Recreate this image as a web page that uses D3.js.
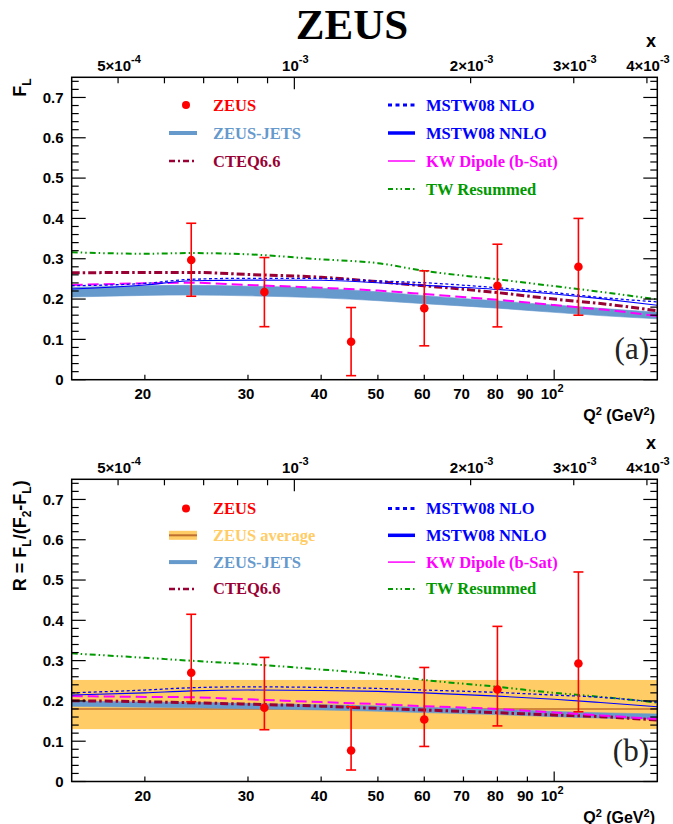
<!DOCTYPE html>
<html>
<head>
<meta charset="utf-8">
<script src="https://cdn.jsdelivr.net/npm/d3@7"></script>
<style>
  html, body { margin: 0; padding: 0; background: #fff; }
  svg { display: block; }
</style>
</head>
<body>
<svg id="chart" width="673" height="824"></svg>
<script>
// ---------------- DATA ----------------
const Q2_MIN = 15, Q2_MAX = 150;
const X_FACTOR = 36000;               // x = Q2 / X_FACTOR (top axis)
const Y_MAX = 0.75;

// Q2 grid on which theory curves are read
const q2Grid = [15, 20, 24, 30, 40, 50, 60, 80, 100, 120, 150];

// ---- panel (a): F_L ----
const flTW    = [0.316, 0.3125, 0.314, 0.311, 0.2985, 0.289, 0.270, 0.249, 0.232, 0.218, 0.199];
const flCTEQ  = [0.265, 0.266, 0.266, 0.261, 0.254, 0.243, 0.233, 0.216, 0.200, 0.189, 0.171];
const flNLO   = [0.233, 0.239, 0.249, 0.2515, 0.251, 0.245, 0.2405, 0.228, 0.216, 0.204, 0.193];
const flNNLO  = [0.225, 0.235, 0.2455, 0.247, 0.2465, 0.2405, 0.234, 0.224, 0.2125, 0.201, 0.1845];
const flKW    = [0.235, 0.239, 0.2405, 0.235, 0.228, 0.221, 0.2125, 0.198, 0.185, 0.1745, 0.158];
const flJetsLo = [0.205, 0.209, 0.210, 0.208, 0.203, 0.196, 0.1885, 0.1775, 0.167, 0.159, 0.151];
const flJetsHi = [0.229, 0.233, 0.234, 0.232, 0.227, 0.218, 0.2085, 0.1955, 0.185, 0.177, 0.167];

// ---- panel (b): R = F_L/(F_2-F_L) ----
const rTW    = [0.318, 0.307, 0.2997, 0.2915, 0.278, 0.266, 0.252, 0.235, 0.220, 0.210, 0.196];
const rCTEQ  = [0.2005, 0.198, 0.1955, 0.192, 0.187, 0.1815, 0.1775, 0.1707, 0.165, 0.161, 0.1525];
const rNLO   = [0.220, 0.227, 0.2327, 0.235, 0.2335, 0.231, 0.227, 0.221, 0.2145, 0.209, 0.197];
const rNNLO  = [0.2145, 0.220, 0.225, 0.227, 0.226, 0.2237, 0.220, 0.212, 0.204, 0.196, 0.1855];
const rKW    = [0.212, 0.210, 0.209, 0.204, 0.197, 0.192, 0.187, 0.180, 0.1715, 0.164, 0.155];
const rJetsLo = [0.1865, 0.1845, 0.183, 0.1805, 0.1775, 0.1745, 0.171, 0.166, 0.161, 0.1575, 0.1545];
const rJetsHi = [0.1995, 0.1975, 0.1965, 0.1935, 0.1905, 0.1875, 0.184, 0.179, 0.174, 0.1705, 0.1675];
const rAvg = 0.18, rAvgLo = 0.13, rAvgHi = 0.252;

// ---- ZEUS data points ----
const q2Pts = [24, 32, 45, 60, 80, 110];
const flPts   = [0.297, 0.2175, 0.094, 0.177, 0.233, 0.280];
const flPtsHi = [0.388, 0.303, 0.179, 0.270, 0.336, 0.400];
const flPtsLo = [0.207, 0.1315, 0.010, 0.084, 0.131, 0.160];
const rPts    = [0.270, 0.183, 0.077, 0.154, 0.2285, 0.293];
const rPtsHi  = [0.415, 0.308, 0.1855, 0.283, 0.385, 0.520];
const rPtsLo  = [0.198, 0.1285, 0.0285, 0.087, 0.138, 0.173];

// ---- tick labels ----
const q2TickVals = [20, 30, 40, 50, 60, 70, 80, 90, 100];
const q2TickLabels = ["20", "30", "40", "50", "60", "70", "80", "90", "10^2"];
const xTickVals = [5e-4, 6e-4, 7e-4, 8e-4, 9e-4, 1e-3, 2e-3, 3e-3, 4e-3];
const xLabelVals = [5e-4, 1e-3, 2e-3, 3e-3, 4e-3];
const xLabelTexts = [["5\u00d710", "-4"], ["10", "-3"], ["2\u00d710", "-3"], ["3\u00d710", "-3"], ["4\u00d710", "-3"]];
const yMajor = [0, 0.1, 0.2, 0.3, 0.4, 0.5, 0.6, 0.7];
const yLabels = ["0", "0.1", "0.2", "0.3", "0.4", "0.5", "0.6", "0.7"];

// ---------------- STYLE ----------------
const C = {
  red: "#ff0000", jets: "#6699cc", cteq: "#990033", blue: "#0000ff",
  kw: "#ff00ff", tw: "#009900", avg: "#ffcc66", avgLine: "#c0702e"
};
const SANS = "'Liberation Sans', Arial, Helvetica, sans-serif";
const SERIF = "'Liberation Serif', 'Times New Roman', serif";

const svg = d3.select("#chart");
svg.append("rect").attr("width", 673).attr("height", 824).attr("fill", "#fff");

const XL = 71.7, XR = 657.3;
const x = d3.scaleLog().domain([Q2_MIN, Q2_MAX]).range([XL, XR]);
const xTop = d3.scaleLog().domain([Q2_MIN / X_FACTOR, Q2_MAX / X_FACTOR]).range([XL, XR]);

// title
svg.append("text").attr("x", 352).attr("y", 39).attr("text-anchor", "middle")
  .attr("font-family", SERIF).attr("font-weight", "bold").attr("font-size", 43)
  .attr("fill", "#000").text("ZEUS");

function zip(xs, ys) { return xs.map((v, i) => [v, ys[i]]); }

function drawPanel(cfg) {
  const g = svg.append("g");
  const y = d3.scaleLinear().domain([0, Y_MAX]).range([cfg.bottom, cfg.top]);
  const line = d3.line().x(d => x(d[0])).y(d => y(d[1])).curve(d3.curveMonotoneX);
  const area = d3.area().x(d => x(d[0])).y0(d => y(d[1])).y1(d => y(d[2])).curve(d3.curveMonotoneX);

  const clipId = "clip" + cfg.id;
  svg.append("clipPath").attr("id", clipId).append("rect")
    .attr("x", XL).attr("y", cfg.top).attr("width", XR - XL).attr("height", cfg.bottom - cfg.top);
  const plot = g.append("g").attr("clip-path", `url(#${clipId})`);

  if (cfg.avg) {
    plot.append("rect").attr("x", x(Q2_MIN)).attr("width", x(Q2_MAX) - x(Q2_MIN))
      .attr("y", y(cfg.avg.hi)).attr("height", y(cfg.avg.lo) - y(cfg.avg.hi))
      .attr("fill", C.avg);
    plot.append("line").attr("x1", x(Q2_MIN)).attr("x2", x(Q2_MAX))
      .attr("y1", y(cfg.avg.v)).attr("y2", y(cfg.avg.v))
      .attr("stroke", C.avgLine).attr("stroke-width", 1.5);
  }
  plot.append("path").datum(q2Grid.map((q, i) => [q, cfg.jetsLo[i], cfg.jetsHi[i]]))
    .attr("d", area).attr("fill", C.jets).attr("stroke", C.jets).attr("stroke-width", 0.6);

  const curves = [
    { d: cfg.tw, color: C.tw, w: 2, dash: "6,3,1.5,3,1.5,3" },
    { d: cfg.cteq, color: C.cteq, w: 3, dash: "8,3,2.5,3" },
    { d: cfg.kw, color: C.kw, w: 2, dash: "11,5" },
    { d: cfg.nnlo, color: C.blue, w: 1.1, dash: null },
    { d: cfg.nlo, color: C.blue, w: 1.3, dash: "3,2.5" }
  ];
  curves.forEach(c => {
    plot.append("path").datum(zip(q2Grid, c.d)).attr("d", line)
      .attr("fill", "none").attr("stroke", c.color).attr("stroke-width", c.w)
      .attr("stroke-dasharray", c.dash);
  });

  const pts = q2Pts.map((q, i) => ({ q, v: cfg.pts[i], hi: cfg.ptsHi[i], lo: cfg.ptsLo[i] }));
  const pg = g.append("g");
  pts.forEach(p => {
    const px = x(p.q);
    pg.append("line").attr("x1", px).attr("x2", px).attr("y1", y(p.hi)).attr("y2", y(p.lo))
      .attr("stroke", C.red).attr("stroke-width", 1.6);
    [p.hi, p.lo].forEach(e => pg.append("line").attr("x1", px - 5).attr("x2", px + 5)
      .attr("y1", y(e)).attr("y2", y(e)).attr("stroke", C.red).attr("stroke-width", 1.6));
    pg.append("circle").attr("cx", px).attr("cy", y(p.v)).attr("r", 4.3).attr("fill", C.red);
  });

  g.append("rect").attr("x", XL).attr("y", cfg.top).attr("width", XR - XL)
    .attr("height", cfg.bottom - cfg.top).attr("fill", "none")
    .attr("stroke", "#000").attr("stroke-width", 1.5);

  const ax = g.append("g").attr("stroke", "#000").attr("stroke-width", 1.2);
  const yMinor = d3.range(0, Y_MAX + 1e-9, 0.02);
  yMinor.forEach(v => {
    const major = yMajor.some(m => Math.abs(m - v) < 1e-6);
    const len = major ? 14 : 7;
    ax.append("line").attr("x1", XL).attr("x2", XL + len).attr("y1", y(v)).attr("y2", y(v));
    ax.append("line").attr("x1", XR).attr("x2", XR - len).attr("y1", y(v)).attr("y2", y(v));
  });
  q2TickVals.forEach(v => {
    const len = v === 100 ? 10 : 5;
    ax.append("line").attr("x1", x(v)).attr("x2", x(v)).attr("y1", cfg.bottom).attr("y2", cfg.bottom - len);
  });
  xTickVals.forEach(v => {
    const len = Math.abs(v - 1e-3) < 1e-12 ? 12 : 6;
    ax.append("line").attr("x1", xTop(v)).attr("x2", xTop(v)).attr("y1", cfg.top).attr("y2", cfg.top + len);
  });

  yMajor.forEach((v, i) => {
    g.append("text").attr("x", 63.5).attr("y", y(v) + 5.3).attr("text-anchor", "end")
      .attr("font-family", SANS).attr("font-weight", "bold").attr("font-size", 15)
      .text(yLabels[i]);
  });
  q2TickVals.forEach((v, i) => {
    const lab = q2TickLabels[i];
    const t = g.append("text").attr("y", cfg.bottom + 19)
      .attr("font-family", SANS).attr("font-weight", "bold").attr("font-size", 15);
    if (lab.includes("^")) {
      const [b, s] = lab.split("^");
      t.attr("x", x(v) - 2).attr("text-anchor", "middle");
      t.append("tspan").text(b);
      t.append("tspan").attr("dy", -7).attr("font-size", 11).text(s);
    } else {
      t.attr("x", x(v) - 2).attr("text-anchor", "middle").text(lab);
    }
  });
  const qt = g.append("text").attr("x", 655).attr("y", cfg.bottom + 41).attr("text-anchor", "end")
    .attr("font-family", SANS).attr("font-weight", "bold").attr("font-size", 16);
  qt.append("tspan").text("Q");
  qt.append("tspan").attr("dy", -6).attr("font-size", 11).text("2");
  qt.append("tspan").attr("dy", 6).text(" (GeV");
  qt.append("tspan").attr("dy", -6).attr("font-size", 11).text("2");
  qt.append("tspan").attr("dy", 6).text(")");

  xLabelVals.forEach((v, i) => {
    const t = g.append("text").attr("x", xTop(v) + 1).attr("y", cfg.top - 6).attr("text-anchor", "middle")
      .attr("font-family", SANS).attr("font-weight", "bold").attr("font-size", 15);
    t.append("tspan").text(xLabelTexts[i][0]);
    t.append("tspan").attr("dy", -8).attr("font-size", 11).text(xLabelTexts[i][1]);
  });
  g.append("text").attr("x", 651).attr("y", cfg.top - 30).attr("text-anchor", "middle")
    .attr("font-family", SANS).attr("font-weight", "bold").attr("font-size", 18).text("x");

  const yt = g.append("text").attr("transform", `translate(26,${cfg.top + 1}) rotate(-90)`)
    .attr("text-anchor", "end").attr("font-family", SANS).attr("font-weight", "bold").attr("font-size", 18);
  cfg.yTitle.forEach(part => {
    const ts = yt.append("tspan").text(part.t);
    if (part.sub) ts.attr("dy", 5).attr("font-size", 12);
    else if (part.back) ts.attr("dy", -5);
  });

  g.append("text").attr("x", 649).attr("y", cfg.bottom - 21).attr("text-anchor", "end")
    .attr("font-family", SERIF).attr("font-size", 31).attr("fill", "#222").text(cfg.label);

  const lg = g.append("g");
  function legendRow(col, rowY, sym, text, color) {
    const x0 = col === 0 ? 169 : 388, x1 = col === 0 ? 197 : 415, tx = col === 0 ? 213 : 426;
    if (sym.type === "marker") {
      lg.append("circle").attr("cx", 186).attr("cy", rowY).attr("r", 4).attr("fill", C.red);
    } else if (sym.type === "band") {
      lg.append("rect").attr("x", x0).attr("y", rowY - 4.5).attr("width", x1 - x0).attr("height", 9).attr("fill", C.avg);
      lg.append("line").attr("x1", x0).attr("x2", x1).attr("y1", rowY).attr("y2", rowY)
        .attr("stroke", C.avgLine).attr("stroke-width", 2);
    } else {
      lg.append("line").attr("x1", x0).attr("x2", x1).attr("y1", rowY).attr("y2", rowY)
        .attr("stroke", sym.color).attr("stroke-width", sym.w).attr("stroke-dasharray", sym.dash || null);
    }
    lg.append("text").attr("x", tx).attr("y", rowY + 5.5).attr("font-family", SERIF)
      .attr("font-weight", "bold").attr("font-size", 16.5).attr("fill", color).text(text);
  }
  cfg.legend.forEach(r => legendRow(r.col, cfg.legY0 + r.row * cfg.legDy, r.sym, r.text, r.color));
}

const legJets = { type: "line", color: C.jets, w: 4 };
const legCteq = { type: "line", color: C.cteq, w: 2.5, dash: "6,3,2,3" };
const legNLO = { type: "line", color: C.blue, w: 3, dash: "4,3.5" };
const legNNLO = { type: "line", color: C.blue, w: 3.5 };
const legKW = { type: "line", color: C.kw, w: 1.5 };
const legTW = { type: "line", color: C.tw, w: 2, dash: "5,3,1.5,3,1.5,3" };

drawPanel({
  id: "a", top: 77.3, bottom: 379.7, label: "(a)",
  tw: flTW, cteq: flCTEQ, nlo: flNLO, nnlo: flNNLO, kw: flKW, jetsLo: flJetsLo, jetsHi: flJetsHi,
  pts: flPts, ptsHi: flPtsHi, ptsLo: flPtsLo,
  yTitle: [{ t: "F" }, { t: "L", sub: true }],
  legY0: 105, legDy: 28,
  legend: [
    { col: 0, row: 0, sym: { type: "marker" }, text: "ZEUS", color: C.red },
    { col: 0, row: 1, sym: legJets, text: "ZEUS-JETS", color: C.jets },
    { col: 0, row: 2, sym: legCteq, text: "CTEQ6.6", color: C.cteq },
    { col: 1, row: 0, sym: legNLO, text: "MSTW08 NLO", color: C.blue },
    { col: 1, row: 1, sym: legNNLO, text: "MSTW08 NNLO", color: C.blue },
    { col: 1, row: 2, sym: legKW, text: "KW Dipole (b-Sat)", color: C.kw },
    { col: 1, row: 3, sym: legTW, text: "TW Resummed", color: C.tw }
  ]
});

drawPanel({
  id: "b", top: 479.3, bottom: 781.5, label: "(b)",
  tw: rTW, cteq: rCTEQ, nlo: rNLO, nnlo: rNNLO, kw: rKW, jetsLo: rJetsLo, jetsHi: rJetsHi,
  pts: rPts, ptsHi: rPtsHi, ptsLo: rPtsLo,
  avg: { v: rAvg, lo: rAvgLo, hi: rAvgHi },
  yTitle: [{ t: "R = F" }, { t: "L", sub: true }, { t: "/(F", back: true }, { t: "2", sub: true },
           { t: "-F", back: true }, { t: "L", sub: true }, { t: ")", back: true }],
  legY0: 508.5, legDy: 26.8,
  legend: [
    { col: 0, row: 0, sym: { type: "marker" }, text: "ZEUS", color: C.red },
    { col: 0, row: 1, sym: { type: "band" }, text: "ZEUS average", color: C.avg },
    { col: 0, row: 2, sym: legJets, text: "ZEUS-JETS", color: C.jets },
    { col: 0, row: 3, sym: legCteq, text: "CTEQ6.6", color: C.cteq },
    { col: 1, row: 0, sym: legNLO, text: "MSTW08 NLO", color: C.blue },
    { col: 1, row: 1, sym: legNNLO, text: "MSTW08 NNLO", color: C.blue },
    { col: 1, row: 2, sym: legKW, text: "KW Dipole (b-Sat)", color: C.kw },
    { col: 1, row: 3, sym: legTW, text: "TW Resummed", color: C.tw }
  ]
});
</script>
</body>
</html>
